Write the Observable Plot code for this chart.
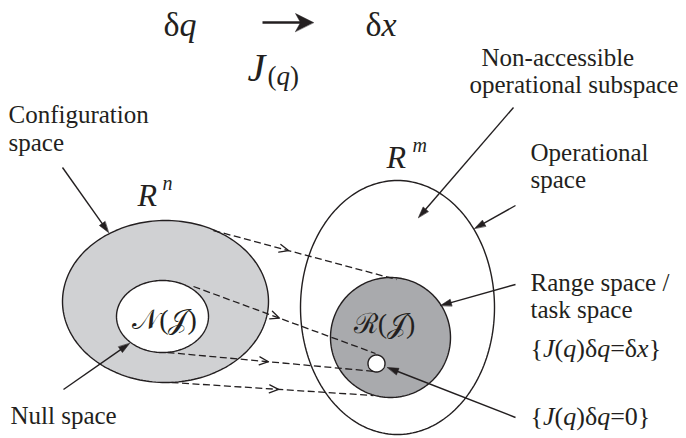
<!DOCTYPE html>
<html><head><meta charset="utf-8">
<script src="https://cdn.jsdelivr.net/npm/d3@7"></script>
<script src="https://cdn.jsdelivr.net/npm/@observablehq/plot@0.6"></script>
<style>html,body{margin:0;padding:0;background:#fff}#chart svg{display:block}
#chart text{font-family:"Liberation Serif","DejaVu Serif",serif}</style>
</head><body><div id="chart"></div>
<script>
// ---- Regions (ellipses) in diagram units ----
const regionNames = ["Operational space", "Configuration space", "Null space", "Range space", "Zero image"];
const regionCx = [397, 165, 162, 390, 376];
const regionCy = [307, 301, 316, 337, 363];
const regionRx = [97, 103, 46, 60, 8.5];
const regionRy = [127, 81, 36, 60, 8.5];

// ---- Dashed mapping lines (from R^n to R^m) ----
const mapX1 = [213, 193, 167, 171];
const mapY1 = [230, 286, 352, 382];
const mapX2 = [396, 375, 375, 373];
const mapY2 = [279, 353, 371, 395];
const mapArrowX = [288, 279, 268, 278];

// ---- Pointer arrows from labels ----
const pointerX1 = [62, 63, 513, 515, 515, 515];
const pointerY1 = [167, 389, 107, 205, 284, 417];
const pointerX2 = [108, 129, 418, 474, 440, 387];
const pointerY2 = [232, 343, 217, 228, 305, 367];

// ---- Labels ----
const labelText = ["Configuration", "space", "Non-accessible", "operational subspace", "Operational", "space", "Range space /", "task space", "Null space"];
const labelX = [8, 8, 481, 469, 530, 530, 530, 530, 10];
const labelY = [122, 150, 65, 92, 160, 187, 290, 317, 423];

const mathText = ["{J(q)δq=δx}", "{J(q)δq=0}", "δq", "δx", "(q)"];
const mathX = [530, 530, 163, 365, 267];
const mathY = [356, 424, 35, 35, 84];
const mathSize = [26, 26, 34, 34, 27];

const symText = ["J", "R", "n", "R", "m"];
const symX = [247, 137, 162, 386, 412];
const symY = [80, 205, 189, 167, 151];
const symSize = [40, 32, 20, 32, 20];

const setText = ["𝒩(𝒥)", "ℛ(𝒥)"];
const setX = [164, 384];
const setY = [328, 332];

// ---- Geometry helpers ----
function ellipse(i, n = 200) {
  return d3.range(n).map(k => {
    const t = 2 * Math.PI * k / n;
    return {x: regionCx[i] + regionRx[i] * Math.cos(t), y: regionCy[i] + regionRy[i] * Math.sin(t)};
  });
}
function unit(x1, y1, x2, y2) { const dx = x2 - x1, dy = y2 - y1, L = Math.hypot(dx, dy); return [dx / L, dy / L]; }

const pointerLines = [], pointerHeads = [];
pointerX1.forEach((_, i) => {
  const [ux, uy] = unit(pointerX1[i], pointerY1[i], pointerX2[i], pointerY2[i]);
  const len = 11, half = 3.4;
  const bx = pointerX2[i] - ux * len, by = pointerY2[i] - uy * len;
  pointerLines.push({x1: pointerX1[i], y1: pointerY1[i], x2: bx + ux * 2, y2: by + uy * 2});
  pointerHeads.push({id: i, x: pointerX2[i], y: pointerY2[i]}, {id: i, x: bx - uy * half, y: by + ux * half}, {id: i, x: bx + uy * half, y: by - ux * half});
});

const mapLines = mapX1.map((_, i) => ({x1: mapX1[i], y1: mapY1[i], x2: mapX2[i], y2: mapY2[i]}));
const chevrons = [];
mapX1.forEach((_, i) => {
  const [ux, uy] = unit(mapX1[i], mapY1[i], mapX2[i], mapY2[i]);
  const f = (mapArrowX[i] - mapX1[i]) / (mapX2[i] - mapX1[i]);
  const tx = mapX1[i] + f * (mapX2[i] - mapX1[i]), ty = mapY1[i] + f * (mapY2[i] - mapY1[i]);
  const len = 9, half = 4;
  const bx = tx - ux * len, by = ty - uy * len;
  chevrons.push({id: i, x: bx - uy * half, y: by + ux * half}, {id: i, x: tx, y: ty}, {id: i, x: bx + uy * half, y: by - ux * half});
});

// top mapping arrow δq → δx
const topArrow = [{x1: 262, y1: 22, x2: 302, y2: 22}];
const topHead = [{x: 313, y: 22}, {x: 295, y: 13}, {x: 300, y: 22}, {x: 295, y: 31}];

const serif = "'Liberation Serif', 'DejaVu Serif', serif";
const ink = "#231f20";

const svg = Plot.plot({
  width: 686, height: 438, margin: 0,
  x: {domain: [0, 686], range: [0, 686], axis: null},
  y: {domain: [0, 438], range: [0, 438], axis: null},
  style: {background: "white", overflow: "visible", fontFamily: serif},
  marks: [
    Plot.line(ellipse(0), {x: "x", y: "y", curve: "linear-closed", fill: "white", stroke: ink, strokeWidth: 1.4}),
    Plot.line(ellipse(1), {x: "x", y: "y", curve: "linear-closed", fill: "#d0d1d3", stroke: ink, strokeWidth: 1.4}),
    Plot.line(ellipse(2), {x: "x", y: "y", curve: "linear-closed", fill: "white", stroke: ink, strokeWidth: 1.4}),
    Plot.line(ellipse(3), {x: "x", y: "y", curve: "linear-closed", fill: "#a9aaad", stroke: ink, strokeWidth: 1.4}),
    Plot.line(ellipse(4), {x: "x", y: "y", curve: "linear-closed", fill: "white", stroke: ink, strokeWidth: 1.4}),
    Plot.link(mapLines, {x1: "x1", y1: "y1", x2: "x2", y2: "y2", stroke: ink, strokeWidth: 1.3, strokeDasharray: "7,3.5"}),
    Plot.line(chevrons, {x: "x", y: "y", z: "id", stroke: ink, strokeWidth: 1.3}),
    Plot.link(pointerLines, {x1: "x1", y1: "y1", x2: "x2", y2: "y2", stroke: ink, strokeWidth: 1.4}),
    Plot.line(pointerHeads, {x: "x", y: "y", z: "id", curve: "linear-closed", fill: ink, stroke: ink, strokeWidth: 0.6}),
    Plot.link(topArrow, {x1: "x1", y1: "y1", x2: "x2", y2: "y2", stroke: ink, strokeWidth: 2.6}),
    Plot.line(topHead, {x: "x", y: "y", curve: "linear-closed", fill: ink, stroke: ink, strokeWidth: 0.5}),
    Plot.text(labelText, {x: (d, i) => labelX[i], y: (d, i) => labelY[i], text: d => d, textAnchor: "start", lineAnchor: "bottom", fontFamily: serif, fontSize: 25, fill: ink}),
    Plot.text(mathText, {x: (d, i) => mathX[i], y: (d, i) => mathY[i], text: d => d, fontSize: (d, i) => mathSize[i], textAnchor: "start", lineAnchor: "bottom", fontFamily: serif, fill: ink}),
    Plot.text(symText, {x: (d, i) => symX[i], y: (d, i) => symY[i], text: d => d, fontSize: (d, i) => symSize[i], textAnchor: "start", lineAnchor: "bottom", fontFamily: serif, fontStyle: "italic", fill: ink}),
    Plot.text(setText, {x: (d, i) => setX[i], y: (d, i) => setY[i], text: d => d, textAnchor: "middle", lineAnchor: "bottom", fontFamily: serif, fontSize: 28, fill: ink})
  ]
});

// italicize Latin letters inside math expressions
const mathSet = new Set(mathText);
svg.querySelectorAll("text").forEach(t => {
  const s = t.textContent;
  if (!mathSet.has(s)) return;
  t.textContent = "";
  for (const ch of s) {
    const ts = document.createElementNS("http://www.w3.org/2000/svg", "tspan");
    if (/[A-Za-z]/.test(ch)) ts.setAttribute("font-style", "italic");
    ts.textContent = ch;
    t.appendChild(ts);
  }
});
document.getElementById("chart").appendChild(svg);
</script>
</body></html>
